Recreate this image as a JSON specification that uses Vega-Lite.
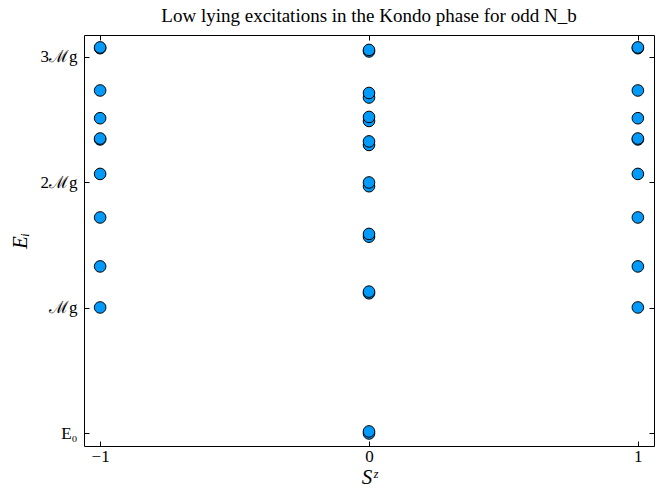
{
  "$schema": "https://vega.github.io/schema/vega-lite/v6.json",
  "autosize": "none",
  "width": 570,
  "height": 411,
  "padding": {"left": 84, "top": 35, "right": 6, "bottom": 47},
  "background": "white",
  "title": {
    "text": "Low lying excitations in the Kondo phase for odd N_b",
    "font": "Liberation Serif",
    "fontSize": 19,
    "fontWeight": "normal",
    "color": "black",
    "anchor": "middle",
    "offset": 9
  },
  "config": {
    "view": {"stroke": "black", "strokeWidth": 1},
    "axis": {
      "grid": false,
      "domain": false,
      "tickColor": "black",
      "tickSize": -5,
      "tickWidth": 1,
      "labelOverlap": false,
      "labelFont": "Liberation Serif",
      "labelFontSize": 17,
      "labelColor": "black",
      "titleFont": "Liberation Serif",
      "titleFontSize": 21,
      "titleFontStyle": "italic",
      "titleFontWeight": "normal",
      "titleColor": "black"
    }
  },
  "data": {
    "values": [
      {"S": -1, "E": 1.004}, {"S": -1, "E": 1.331}, {"S": -1, "E": 1.721}, {"S": -1, "E": 2.068},
      {"S": -1, "E": 2.343}, {"S": -1, "E": 2.35}, {"S": -1, "E": 2.512}, {"S": -1, "E": 2.733},
      {"S": -1, "E": 3.07}, {"S": -1, "E": 3.076},
      {"S": 0, "E": 0.0}, {"S": 0, "E": 0.016}, {"S": 0, "E": 1.117}, {"S": 0, "E": 1.13},
      {"S": 0, "E": 1.568}, {"S": 0, "E": 1.59}, {"S": 0, "E": 1.97}, {"S": 0, "E": 2.0},
      {"S": 0, "E": 2.299}, {"S": 0, "E": 2.327}, {"S": 0, "E": 2.49}, {"S": 0, "E": 2.522},
      {"S": 0, "E": 2.677}, {"S": 0, "E": 2.713}, {"S": 0, "E": 3.044}, {"S": 0, "E": 3.056},
      {"S": 1, "E": 1.004}, {"S": 1, "E": 1.331}, {"S": 1, "E": 1.721}, {"S": 1, "E": 2.068},
      {"S": 1, "E": 2.343}, {"S": 1, "E": 2.35}, {"S": 1, "E": 2.512}, {"S": 1, "E": 2.733},
      {"S": 1, "E": 3.07}, {"S": 1, "E": 3.076}
    ]
  },
  "layer": [
    {
      "mark": {"type": "point", "shape": "circle", "filled": true, "size": 135, "fill": "#009AFA", "stroke": "black", "strokeWidth": 1, "opacity": 1},
      "encoding": {
        "x": {
          "field": "S", "type": "quantitative",
          "scale": {"domain": [-1.06, 1.06], "nice": false, "zero": false},
          "axis": {"orient": "bottom", "values": [-1, 0, 1], "labelExpr": "datum.value == 0 ? '0' : datum.value < 0 ? '−1' : '1'", "title": "Sᶻ", "labelPadding": 7, "titlePadding": 2}
        },
        "y": {
          "field": "E", "type": "quantitative",
          "scale": {"domain": [-0.1, 3.175], "nice": false, "zero": false},
          "axis": {
            "orient": "left", "values": [0, 1, 2, 3],
            "labelExpr": "datum.value == 0 ? 'E₀' : datum.value == 1 ? 'ℳg' : datum.value + 'ℳg'",
            "title": "Eᵢ", "labelPadding": 12, "titlePadding": 10
          }
        }
      }
    },
    {
      "mark": {"type": "point", "opacity": 0},
      "encoding": {
        "x": {"field": "S", "type": "quantitative", "axis": {"orient": "top", "values": [-1, 0, 1], "labels": false, "title": null}},
        "y": {"field": "E", "type": "quantitative", "axis": {"orient": "right", "values": [0, 1, 2, 3], "labels": false, "title": null}}
      }
    }
  ],
  "resolve": {"axis": {"x": "independent", "y": "independent"}}
}
